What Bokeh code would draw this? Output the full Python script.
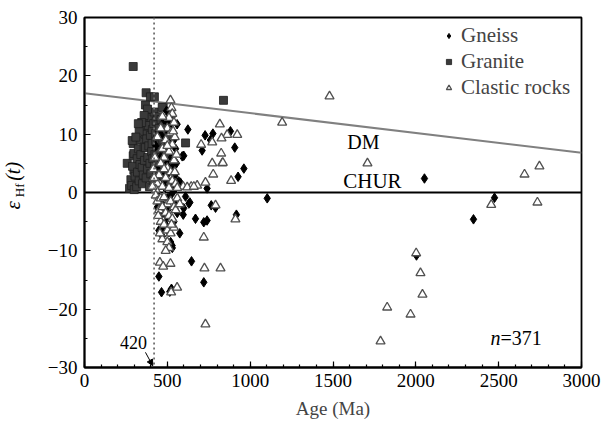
import math
from bokeh.plotting import figure
from bokeh.models import (Range1d, Label, Arrow, NormalHead, Span, Legend, LegendItem,
                          FixedTicker)
from bokeh.embed import file_html
from bokeh.resources import INLINE

# ---------------- data (age Ma, epsilon Hf(t)) ----------------
granite_age = [294, 839, 610, 372, 398, 422, 368, 475,
               272, 258, 294, 294, 298, 288, 298, 280, 285, 290, 300, 305,
               315, 320, 318, 325, 330, 335, 340, 345, 348, 350, 355, 358, 360, 362, 365, 368, 370, 372,
               375, 378, 380, 382, 385, 388, 390, 392, 395, 398, 400, 402, 405, 408, 410, 412, 415, 418,
               420, 422, 425, 428, 430, 432, 435, 438, 440, 442, 445, 449, 450, 452, 455, 458, 460, 462,
               465, 469, 472, 475, 478, 480, 485, 490, 495, 500, 505, 510, 520, 380, 360, 345, 330, 310, 325]
granite_eps = [21.6, 15.8, 8.5, 17.1, 16.4, 16.4, 15.0, 14.6,
               0.7, 5.0, 6.3, 8.4, 3.8, 8.9, 6.7, 2.2, 1.2, 4.5, 0.5, 2.8,
               1.0, 3.5, 5.8, 7.5, 2.0, 4.8, 6.5, 9.0, 4.3, 1.5, 3.0, 11.1, 7.8, 5.5, 10.0, 7.7, 12.0, 2.5,
               9.2, 12.9, 4.0, 6.0, 11.5, 8.0, 13.5, 1.0, 5.0, 9.8, 3.2, 12.9, 7.0, 8.4, 10.8, 5.8, 2.0, 11.8,
               13.8, 4.5, 6.5, 10.1, 8.8, 12.2, 3.5, 7.2, 9.5, 13.0, 5.2, 6.7, 11.0, 2.8, 8.2, 10.0, 4.2, 12.5,
               6.0, 14.6, 9.0, 3.0, 7.5, 11.5, 5.5, 8.8, 10.5, 6.2, 1.8, 9.5, 4.5, 14.3, 13.2, 12.0, 10.5, 9.5, 11.8]

gneiss_age = [1103, 2052, 2475, 2348, 2004,
              559, 624, 590, 515, 519, 579, 740, 599, 569, 539, 775, 881, 710, 907, 962, 927, 728, 760,
              470, 480, 490, 500, 505, 510, 520, 525, 530, 535, 540, 545, 550, 555, 480, 460, 450, 440, 430,
              495, 485, 500, 470,
              610, 630, 596, 670, 720, 740, 791, 765, 917, 575, 529, 469, 449, 499, 509, 469, 453, 599,
              646, 449, 720, 465, 515, 636, 520, 530, 480, 490, 460, 510, 540, 550, 560, 470, 500, 440,
              520, 525, 480]
gneiss_eps = [-1.0, 2.4, -0.9, -4.6, -10.8,
              11.7, 10.8, 6.2, 11.5, 1.2, 1.7, 0.7, 6.3, 1.9, 0.3, 10.1, 10.5, 7.2, 7.7, 4.1, 2.7, 9.8, 9.0,
              9.5, 12.5, 7.8, 5.0, 10.5, 3.5, 8.5, 6.0, 13.0, 4.5, 9.0, 2.8, 7.5, 5.0, 2.0, 6.0, 10.5, 4.0, 8.0,
              14.0, 0.8, 12.0, 3.5,
              -0.7, -1.9, -3.8, -4.5, -5.1, -4.8, -2.6, -2.2, -3.8, -7.0, -9.1, -6.2, -6.5, -4.3, -2.7, -1.9, -0.8, -2.7,
              -11.8, -14.4, -15.4, -17.1, -17.0, -1.7, -8.5, -9.5, -3.0, -5.5, -4.0, -6.8, -5.0, -2.0, -3.5, -7.5, -1.0, -2.5,
              -0.5, -16.5, -6.0]

clastic_age = [1193, 1479, 1708, 2455, 2656, 2734, 2746, 2002, 2028, 2040, 1827, 1968, 1787,
               519, 817, 922, 861, 704, 771, 825, 831, 771, 777, 885, 730, 680, 644, 596, 827, 835, 620, 660,
               911, 720, 455, 475, 519, 724, 821, 559, 523, 730, 791,
               525, 530, 510, 540, 500, 520, 545, 490, 530, 470, 510, 480, 540, 460, 500, 520, 450, 490, 530,
               440, 470, 510, 550, 560, 430, 480, 500, 460, 440, 470, 555, 545, 535, 425, 415, 410, 420,
               430, 440, 460, 480, 500, 520, 540, 450, 470, 490, 510, 530, 550, 460, 480, 500, 520, 540,
               470, 500, 510, 490, 525, 560, 575, 445, 455]
clastic_eps = [12.0, 16.5, 5.0, -2.1, 3.1, -1.7, 4.5, -10.4, -13.8, -17.5, -19.7, -20.9, -25.5,
               15.8, 11.7, 9.9, 9.9, 8.2, 8.6, 6.7, 5.0, 5.0, 3.1, 2.0, 1.7, 1.2, 1.0, 1.0, 9.3, 5.1, 0.9, 1.0,
               -4.6, -7.7, -12.0, -12.7, -12.2, -13.0, -13.0, -16.3, -17.1, -22.6, -2.2,
               14.5, 13.5, 12.8, 12.0, 11.0, 10.2, 9.5, 9.0, 8.2, 7.5, 7.0, 6.0, 5.5, 5.0, 4.2, 3.5, 3.0, 2.5, 2.0,
               1.5, 1.0, 0.8, 1.5, 0.8, 0.5, 4.0, 8.0, 11.0, 9.5, 13.0, 6.5, 3.5, 10.5, 6.0, 4.0, 1.0, 2.5,
               -0.5, -1.5, -1.0, -0.8, -2.0, -1.5, -2.5, -3.0, -2.5, -3.5, -4.0, -4.5, -3.0, -5.0, -5.5, -6.5, -7.0, -6.0,
               -8.0, -8.5, -9.5, -10.0, -5.5, -1.0, -2.0, -4.0, -7.0]

dm_age = [0, 3000]
dm_eps = [17.0, 6.8]
chur_age = [0, 3000]
chur_eps = [0, 0]

x_ticks = [0, 500, 1000, 1500, 2000, 2500, 3000]
y_ticks = [-30, -20, -10, 0, 10, 20, 30]

SERIF = "Liberation Serif"

p = figure(width=608, height=425, output_backend="svg", toolbar_location=None,
           x_range=Range1d(0, 3000), y_range=Range1d(-30, 30),
           min_border_left=84, min_border_right=27, min_border_top=17, min_border_bottom=58)
p.grid.visible = False
p.outline_line_color = "black"
p.outline_line_width = 1.8
p.background_fill_color = "white"
p.border_fill_color = "white"

for ax in (p.xaxis[0], p.yaxis[0]):
    ax.axis_line_width = 1.8
    ax.major_tick_in = 6
    ax.major_tick_out = 0
    ax.minor_tick_in = 3
    ax.minor_tick_out = 0
    ax.major_tick_line_width = 1.2
    ax.minor_tick_line_width = 1.2
    ax.major_label_text_font = SERIF
    ax.major_label_text_font_size = "19px"
    ax.major_label_text_color = "black"
    ax.axis_label_text_font = SERIF
    ax.axis_label_text_font_style = "normal"
    ax.axis_label_text_font_size = "19px"

p.xaxis[0].ticker = FixedTicker(ticks=x_ticks, minor_ticks=list(range(0, 3001, 100)))
p.yaxis[0].ticker = FixedTicker(ticks=y_ticks, minor_ticks=list(range(-30, 31, 5)))
p.xaxis[0].axis_label = "Age (Ma)"
p.xaxis[0].major_label_standoff = 6
p.xaxis[0].axis_label_standoff = 8
p.yaxis[0].major_label_standoff = 7
p.yaxis[0].major_label_overrides = {t: (str(t).replace("-", "\u2212")) for t in y_ticks}

# reference lines
p.line(dm_age, dm_eps, line_color="#808080", line_width=2)
p.line(chur_age, chur_eps, line_color="black", line_width=2)
p.add_layout(Span(location=420, dimension="height", line_color="#707070",
                  line_dash="2 3", line_width=1.8))

r_gr = p.scatter(granite_age, granite_eps, marker="square", size=8,
                 fill_color="#3a3a3a", line_color="#1e1e1e", line_width=0.8)
r_gn = p.scatter(gneiss_age, gneiss_eps, marker="diamond", size=9.5,
                 fill_color="black", line_color="black")
r_cl = p.scatter(clastic_age, clastic_eps, marker="triangle", size=9,
                 fill_color="white", line_color="#505050", line_width=1.3)

legend = Legend(items=[LegendItem(label="Gneiss", renderers=[r_gn]),
                       LegendItem(label="Granite", renderers=[r_gr]),
                       LegendItem(label="Clastic rocks", renderers=[r_cl])],
                location=(358, 267), margin=0, padding=3, spacing=1,
                glyph_width=13, glyph_height=13, label_height=20, label_standoff=6,
                label_text_font=SERIF, label_text_font_size="21px",
                border_line_color=None, background_fill_alpha=0)
p.add_layout(legend)

# text annotations
def lab(x, y, text, size="19px", style="normal", align="center", baseline="middle", angle=0,
        place="center"):
    lbl = Label(x=x, y=y, text=text, text_font=SERIF, text_font_size=size,
                text_font_style=style, text_align=align, text_baseline=baseline,
                angle=angle, text_color="black")
    p.add_layout(lbl, place)

lab(1684, 8.7, "DM", size="20px")
lab(1738, 2.0, "CHUR", size="21px")
lab(296, -25.7, "420", size="18px")
lab(2451, -25.0, "n", size="20px", style="italic", align="left")
lab(2511, -25.0, "=371", size="20px", align="left")

# y-axis label (rotated) epsilon_Hf(t): pieces placed in side panels (positions in data units)
ang = math.pi / 2
lab(-432, -2.9, "\u03b5", size="21px", style="italic", align="left", angle=ang, place="left")
lab(-390, -0.8, "Hf", size="13px", align="left", angle=ang, place="above")
lab(-432, 2.0, "(t)", size="20px", style="italic", align="left", angle=ang, place="right")

p.add_layout(Arrow(x_start=368, y_start=-27.4, x_end=412, y_end=-29.7, line_width=1,
                   end=NormalHead(size=6, fill_color="black", line_color="black")))

open("out.html", "w").write(file_html(p, INLINE))
